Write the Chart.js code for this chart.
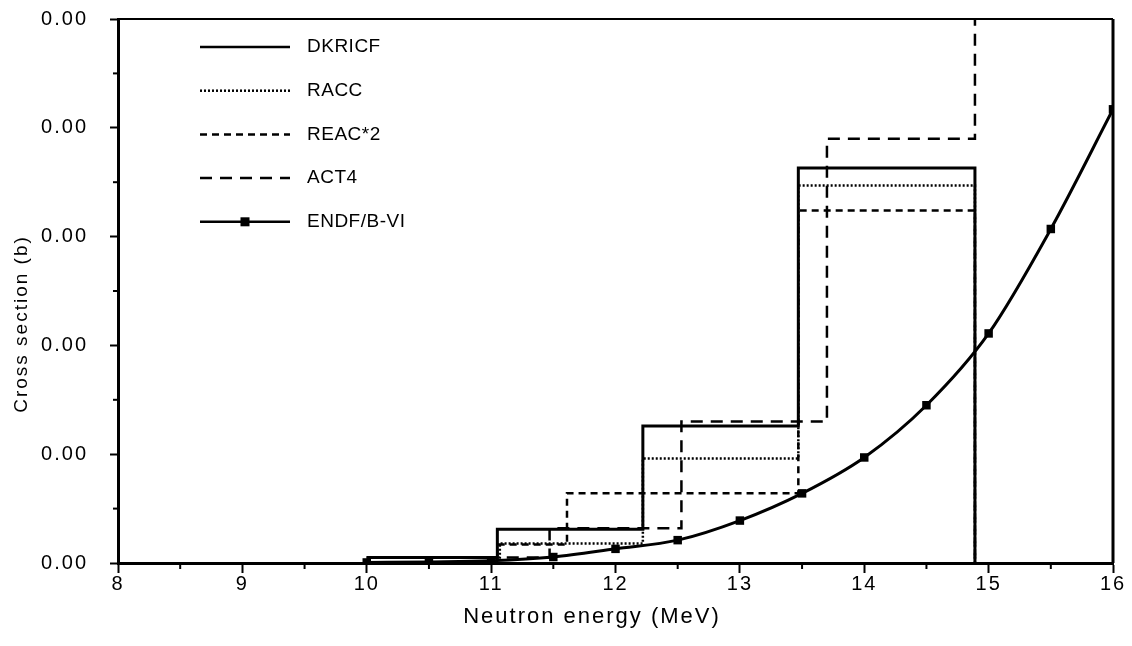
<!DOCTYPE html>
<html>
<head>
<meta charset="utf-8">
<script src="https://cdn.jsdelivr.net/npm/chart.js@4/dist/chart.umd.min.js"></script>
<style>
  html, body { margin: 0; padding: 0; background: #fff; }
  #wrap { width: 1132px; height: 646px; position: relative; }
</style>
</head>
<body>
<div id="wrap"><canvas id="c" width="1132" height="646"></canvas></div>
<script>
// Group-wise cross sections (b); each value holds from its energy to the next one.
const dkricfE = [10, 11.05, 12.22, 13.47, 14.89];
const dkricfS = [0.000025, 0.000155, 0.00063, 0.001815, 0];

const raccE = [10, 11.07, 12.22, 13.47, 14.89];
const raccS = [0.000025, 0.00009, 0.00048, 0.001735, 0];

const reacE = [10, 11.05, 11.61, 13.47, 14.89];
const reacS = [0.000025, 0.000085, 0.00032, 0.00162, 0];

const act4E = [10, 11.47, 12.53, 13.7, 14.89];
const act4S = [0.000025, 0.00016, 0.00065, 0.00195, 0.003];

// Evaluated point-wise data
const endfE = [10, 10.5, 11, 11.5, 12, 12.5, 13, 13.5, 14, 14.5, 15, 15.5, 16];
const endfS = [0.0000025, 0.000005, 0.00001, 0.0000275, 0.000065, 0.000105, 0.000195,
               0.00032, 0.000485, 0.000725, 0.001055, 0.001535, 0.002085];

const seriesNames = ['DKRICF', 'RACC', 'REAC*2', 'ACT4', 'ENDF/B-VI'];
const xTickValues = [8, 9, 10, 11, 12, 13, 14, 15, 16];
const xTitle = 'Neutron energy (MeV)';
const yTitle = 'Cross section (b)';

const FONT = "'Liberation Sans', Arial, sans-serif";
const INK = '#000';
const SPACING = '2px';

const pairs = (xs, ys) => xs.map((x, i) => ({ x: x, y: ys[i] }));

// Loose letter spacing for the axis lettering
const spacingPlugin = {
  id: 'spacing',
  beforeUpdate(chart) { chart.ctx.letterSpacing = SPACING; },
  beforeDraw(chart) { chart.ctx.letterSpacing = SPACING; }
};

// Frame, minor ticks, axis titles and in-plot key
const framePlugin = {
  id: 'frame',
  afterDraw(chart) {
    const { ctx, chartArea: a, scales } = chart;
    ctx.save();
    ctx.strokeStyle = INK;
    ctx.lineWidth = 2;
    ctx.beginPath();
    ctx.moveTo(a.left, a.top);
    ctx.lineTo(a.right, a.top);
    ctx.stroke();
    ctx.lineWidth = 3;
    ctx.beginPath();
    ctx.moveTo(a.right, a.top);
    ctx.lineTo(a.right, a.bottom);
    ctx.stroke();

    // minor ticks
    ctx.lineWidth = 2;
    scales.x.ticks.forEach((t, i) => {
      if (i % 2 === 1) {
        const px = scales.x.getPixelForValue(t.value);
        ctx.beginPath();
        ctx.moveTo(px, a.bottom);
        ctx.lineTo(px, a.bottom + 6);
        ctx.stroke();
      }
    });
    scales.y.ticks.forEach((t, i) => {
      if (i % 2 === 1) {
        const py = scales.y.getPixelForValue(t.value);
        ctx.beginPath();
        ctx.moveTo(a.left, py);
        ctx.lineTo(a.left - 5, py);
        ctx.stroke();
      }
    });

    // axis titles
    ctx.fillStyle = INK;
    ctx.textAlign = 'center';
    ctx.textBaseline = 'middle';
    ctx.letterSpacing = '2px';
    ctx.font = '22px ' + FONT;
    ctx.fillText(xTitle, 592, 617);
    ctx.save();
    ctx.translate(22, 324);
    ctx.rotate(-Math.PI / 2);
    ctx.font = '19px ' + FONT;
    ctx.fillText(yTitle, 0, 0);
    ctx.restore();

    // key
    ctx.letterSpacing = '0.5px';
    const x0 = 200, x1 = 290, tx = 307, y0 = 47, dy = 43.7;
    chart.data.datasets.forEach((ds, i) => {
      const y = y0 + i * dy;
      ctx.save();
      ctx.strokeStyle = INK;
      ctx.lineWidth = Math.min(ds.borderWidth, 2.5);
      ctx.setLineDash(ds.borderDash || []);
      ctx.beginPath();
      ctx.moveTo(x0, y);
      ctx.lineTo(x1, y);
      ctx.stroke();
      ctx.restore();
      if (ds.pointRadius > 0) {
        const s = 9;
        ctx.fillStyle = INK;
        ctx.fillRect(x0 + 45 - s / 2, y - s / 2, s, s);
      }
      ctx.fillStyle = INK;
      ctx.font = '19px ' + FONT;
      ctx.textAlign = 'left';
      ctx.textBaseline = 'middle';
      ctx.fillText(ds.label, tx, y);
    });
    ctx.restore();
  }
};

const stepStyle = (label, xs, ys, dash, width) => ({
  label: label,
  data: pairs(xs, ys),
  stepped: true,
  borderColor: INK,
  borderWidth: width,
  borderDash: dash,
  pointRadius: 0,
  fill: false
});

new Chart(document.getElementById('c'), {
  type: 'line',
  data: {
    datasets: [
      stepStyle(seriesNames[0], dkricfE, dkricfS, [], 3),
      stepStyle(seriesNames[1], raccE, raccS, [2, 2], 2.5),
      stepStyle(seriesNames[2], reacE, reacS, [7, 5], 2.5),
      stepStyle(seriesNames[3], act4E, act4S, [12, 8], 2.5),
      {
        label: seriesNames[4],
        data: pairs(endfE, endfS),
        borderColor: INK,
        backgroundColor: INK,
        borderWidth: 3,
        cubicInterpolationMode: 'monotone',
        pointStyle: 'rect',
        pointRadius: 6,
        pointBorderWidth: 0,
        fill: false
      }
    ]
  },
  options: {
    responsive: false,
    animation: false,
    events: [],
    layout: { padding: { top: 19, right: 19, left: 0, bottom: 0 } },
    plugins: { legend: { display: false }, tooltip: { enabled: false } },
    scales: {
      x: {
        type: 'linear',
        min: 8,
        max: 16,
        afterBuildTicks(scale) {
          const t = [];
          xTickValues.forEach((v, i) => {
            t.push({ value: v });
            if (i < xTickValues.length - 1) t.push({ value: v + 0.5 });
          });
          scale.ticks = t;
        },
        afterFit(scale) { scale.height = 83; },
        border: { display: true, color: INK, width: 3 },
        grid: {
          drawOnChartArea: false,
          drawTicks: true,
          tickLength: 10,
          tickWidth: 2,
          tickColor: (c) => (c.index % 2 === 0 ? INK : 'rgba(0,0,0,0)')
        },
        ticks: {
          color: INK,
          font: { family: FONT, size: 20 },
          padding: -1,
          maxRotation: 0,
          autoSkip: false,
          callback: (v, i) => (i % 2 === 0 ? String(v) : '')
        },
        title: { display: false }
      },
      y: {
        type: 'linear',
        min: 0,
        max: 0.0025,
        afterBuildTicks(scale) {
          const t = [];
          for (let k = 0; k <= 10; k++) t.push({ value: k * 0.00025 });
          scale.ticks = t;
        },
        afterFit(scale) {
          scale.width = 118;
          scale.paddingTop = 0;
          scale.paddingBottom = 0;
        },
        border: { display: true, color: INK, width: 3 },
        grid: {
          drawOnChartArea: false,
          drawTicks: true,
          tickLength: 8,
          tickWidth: 2,
          tickColor: (c) => (c.index % 2 === 0 ? INK : 'rgba(0,0,0,0)')
        },
        ticks: {
          color: INK,
          font: { family: FONT, size: 20 },
          padding: 22,
          autoSkip: false,
          callback: (v, i) => (i % 2 === 0 ? Number(v).toFixed(2) : '')
        },
        title: { display: false }
      }
    }
  },
  plugins: [spacingPlugin, framePlugin]
});
</script>
</body>
</html>
